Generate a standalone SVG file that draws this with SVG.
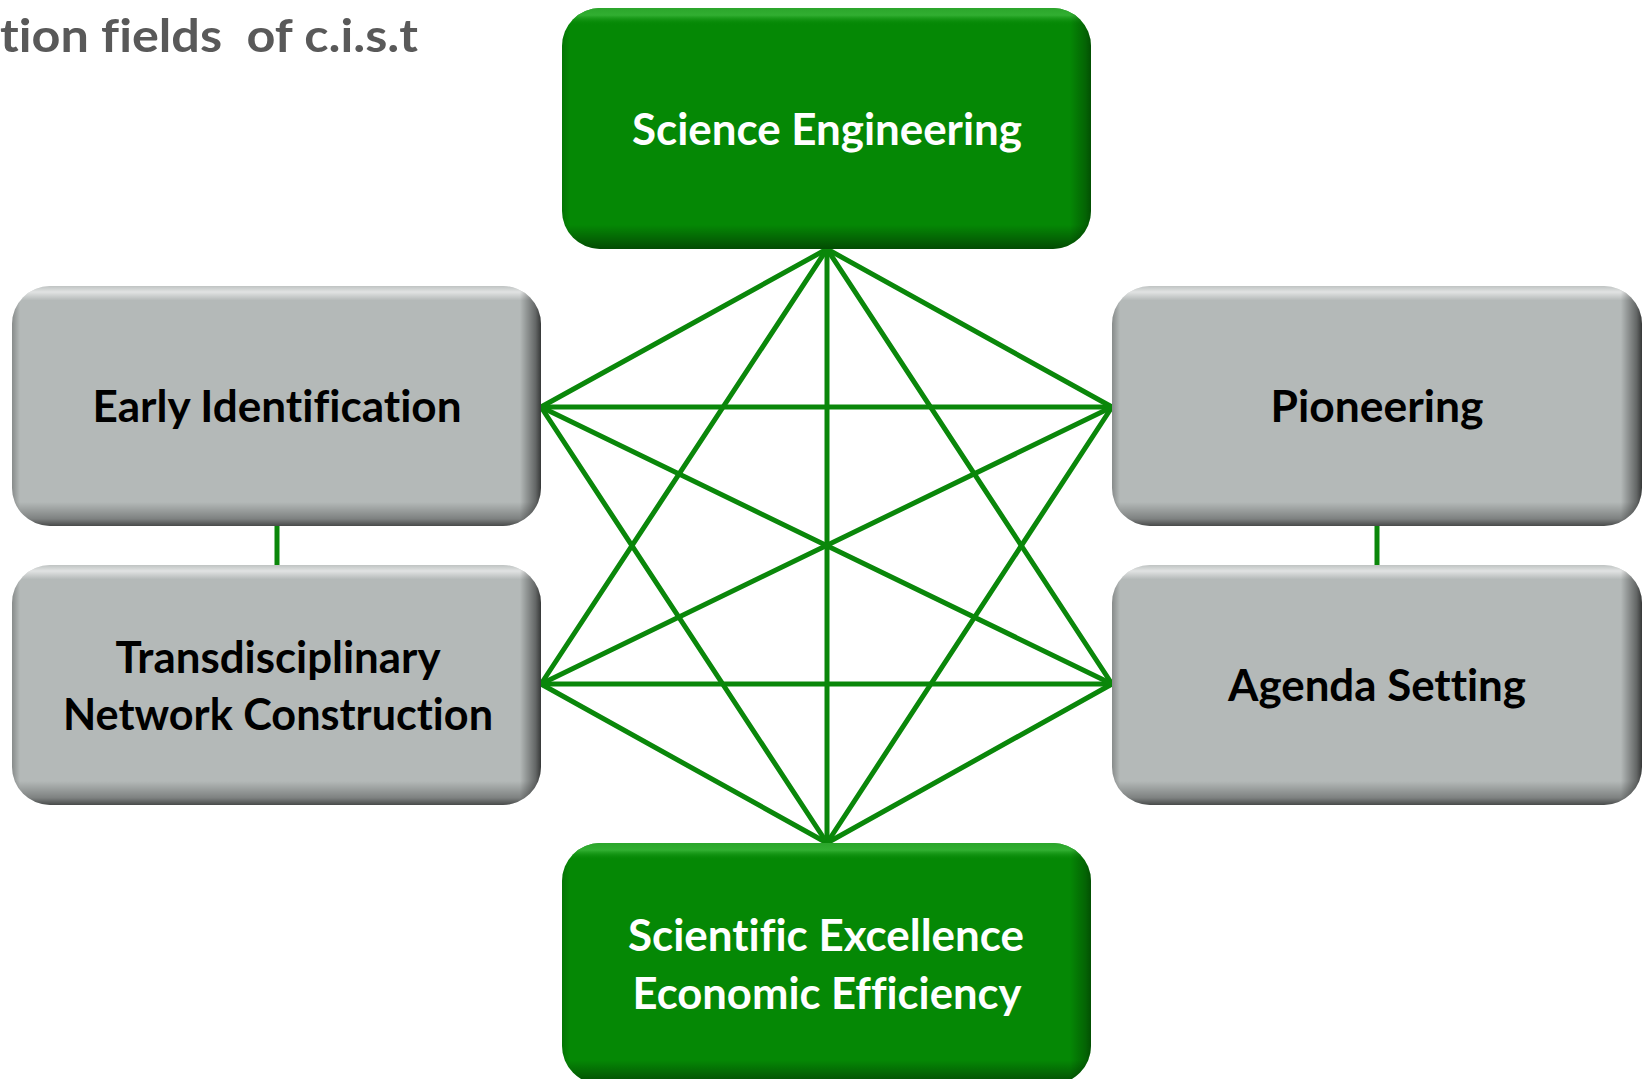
<svg xmlns="http://www.w3.org/2000/svg" width="1648" height="1079" viewBox="0 0 1648 1079">
  <defs>
    <linearGradient id="bevelV" x1="0" y1="0" x2="0" y2="1">
      <stop offset="0" stop-color="#ffffff" stop-opacity="0.15"/>
      <stop offset="0.025" stop-color="#ffffff" stop-opacity="0.6"/>
      <stop offset="0.06" stop-color="#ffffff" stop-opacity="0"/>
      <stop offset="0.9" stop-color="#000000" stop-opacity="0"/>
      <stop offset="0.97" stop-color="#000000" stop-opacity="0.3"/>
      <stop offset="1" stop-color="#000000" stop-opacity="0.6"/>
    </linearGradient>
    <linearGradient id="bevelH" x1="0" y1="0" x2="1" y2="0">
      <stop offset="0" stop-color="#000000" stop-opacity="0.25"/>
      <stop offset="0.015" stop-color="#000000" stop-opacity="0"/>
      <stop offset="0.96" stop-color="#000000" stop-opacity="0"/>
      <stop offset="0.99" stop-color="#000000" stop-opacity="0.45"/>
      <stop offset="1" stop-color="#000000" stop-opacity="0.7"/>
    </linearGradient>
    <linearGradient id="greenTop" x1="0" y1="0" x2="0" y2="1">
      <stop offset="0" stop-color="#2fa82f" stop-opacity="0.9"/>
      <stop offset="0.03" stop-color="#3cb83c" stop-opacity="0.8"/>
      <stop offset="0.07" stop-color="#058805" stop-opacity="0"/>
      <stop offset="0.9" stop-color="#000000" stop-opacity="0"/>
      <stop offset="1" stop-color="#000000" stop-opacity="0.45"/>
    </linearGradient>
  </defs>
  <style>
    .conn line { stroke: #0a870a; stroke-width: 5; stroke-linecap: round; fill: none; }
    .gray { fill: #b4b9b8; }
    .green { fill: #058805; }
    .lbl { font-family: Lato, "Open Sans", "Liberation Sans", sans-serif; font-weight: 700; font-size: 44px; text-anchor: middle; font-variant-ligatures: none; font-feature-settings: "liga" 0; }
    .dark { fill: #000000; }
    .light { fill: #ffffff; }
    .title { font-family: Lato, "Open Sans", "Liberation Sans", sans-serif; font-weight: 700; font-size: 46px; fill: #595959; white-space: pre; font-variant-ligatures: none; font-feature-settings: "liga" 0; }
  </style>
  <rect width="1648" height="1079" fill="#ffffff"/>

  <text id="title" class="title" x="0" y="52" textLength="418" lengthAdjust="spacingAndGlyphs" xml:space="preserve">tion fields  of c.i.s.t</text>

  <g id="connectors" class="conn">
    <line x1="827" y1="249" x2="541" y2="407"/>
    <line x1="827" y1="249" x2="1112" y2="407"/>
    <line x1="827" y1="249" x2="541" y2="684"/>
    <line x1="827" y1="249" x2="1112" y2="684"/>
    <line x1="827" y1="249" x2="827" y2="843"/>
    <line x1="827" y1="843" x2="541" y2="407"/>
    <line x1="827" y1="843" x2="1112" y2="407"/>
    <line x1="827" y1="843" x2="541" y2="684"/>
    <line x1="827" y1="843" x2="1112" y2="684"/>
    <line x1="541" y1="407" x2="1112" y2="407"/>
    <line x1="541" y1="684" x2="1112" y2="684"/>
    <line x1="541" y1="407" x2="1112" y2="684"/>
    <line x1="541" y1="684" x2="1112" y2="407"/>
    <line x1="277" y1="526" x2="277" y2="565"/>
    <line x1="1377" y1="526" x2="1377" y2="565"/>
  </g>

  <g id="science-engineering">
    <rect class="green" x="562" y="8" width="529" height="241" rx="38"/>
    <rect x="562" y="8" width="529" height="241" rx="38" fill="url(#greenTop)"/>
    <rect x="562" y="8" width="529" height="241" rx="38" fill="url(#bevelH)" opacity="0.6"/>
    <text class="lbl light" x="827" y="145" textLength="390" lengthAdjust="spacingAndGlyphs">Science Engineering</text>
  </g>

  <g id="early-identification">
    <rect class="gray" x="12" y="286" width="529" height="240" rx="38"/>
    <rect x="12" y="286" width="529" height="240" rx="38" fill="url(#bevelV)"/>
    <rect x="12" y="286" width="529" height="240" rx="38" fill="url(#bevelH)"/>
    <text class="lbl dark" x="277" y="422" textLength="369" lengthAdjust="spacingAndGlyphs">Early Identification</text>
  </g>

  <g id="transdisciplinary-network">
    <rect class="gray" x="12" y="565" width="529" height="240" rx="38"/>
    <rect x="12" y="565" width="529" height="240" rx="38" fill="url(#bevelV)"/>
    <rect x="12" y="565" width="529" height="240" rx="38" fill="url(#bevelH)"/>
    <text class="lbl dark" x="278" y="673" textLength="325" lengthAdjust="spacingAndGlyphs">Transdisciplinary</text>
    <text class="lbl dark" x="278" y="730" textLength="430" lengthAdjust="spacingAndGlyphs">Network Construction</text>
  </g>

  <g id="pioneering">
    <rect class="gray" x="1112" y="286" width="530" height="240" rx="38"/>
    <rect x="1112" y="286" width="530" height="240" rx="38" fill="url(#bevelV)"/>
    <rect x="1112" y="286" width="530" height="240" rx="38" fill="url(#bevelH)"/>
    <text class="lbl dark" x="1377" y="422" textLength="213" lengthAdjust="spacingAndGlyphs">Pioneering</text>
  </g>

  <g id="agenda-setting">
    <rect class="gray" x="1112" y="565" width="530" height="240" rx="38"/>
    <rect x="1112" y="565" width="530" height="240" rx="38" fill="url(#bevelV)"/>
    <rect x="1112" y="565" width="530" height="240" rx="38" fill="url(#bevelH)"/>
    <text class="lbl dark" x="1377" y="701" textLength="298" lengthAdjust="spacingAndGlyphs">Agenda Setting</text>
  </g>

  <g id="scientific-excellence">
    <rect class="green" x="562" y="843" width="529" height="241" rx="38"/>
    <rect x="562" y="843" width="529" height="241" rx="38" fill="url(#greenTop)"/>
    <rect x="562" y="843" width="529" height="241" rx="38" fill="url(#bevelH)" opacity="0.6"/>
    <text class="lbl light" x="826" y="951" textLength="396" lengthAdjust="spacingAndGlyphs">Scientific Excellence</text>
    <text class="lbl light" x="827" y="1009" textLength="389" lengthAdjust="spacingAndGlyphs">Economic Efficiency</text>
  </g>
</svg>
